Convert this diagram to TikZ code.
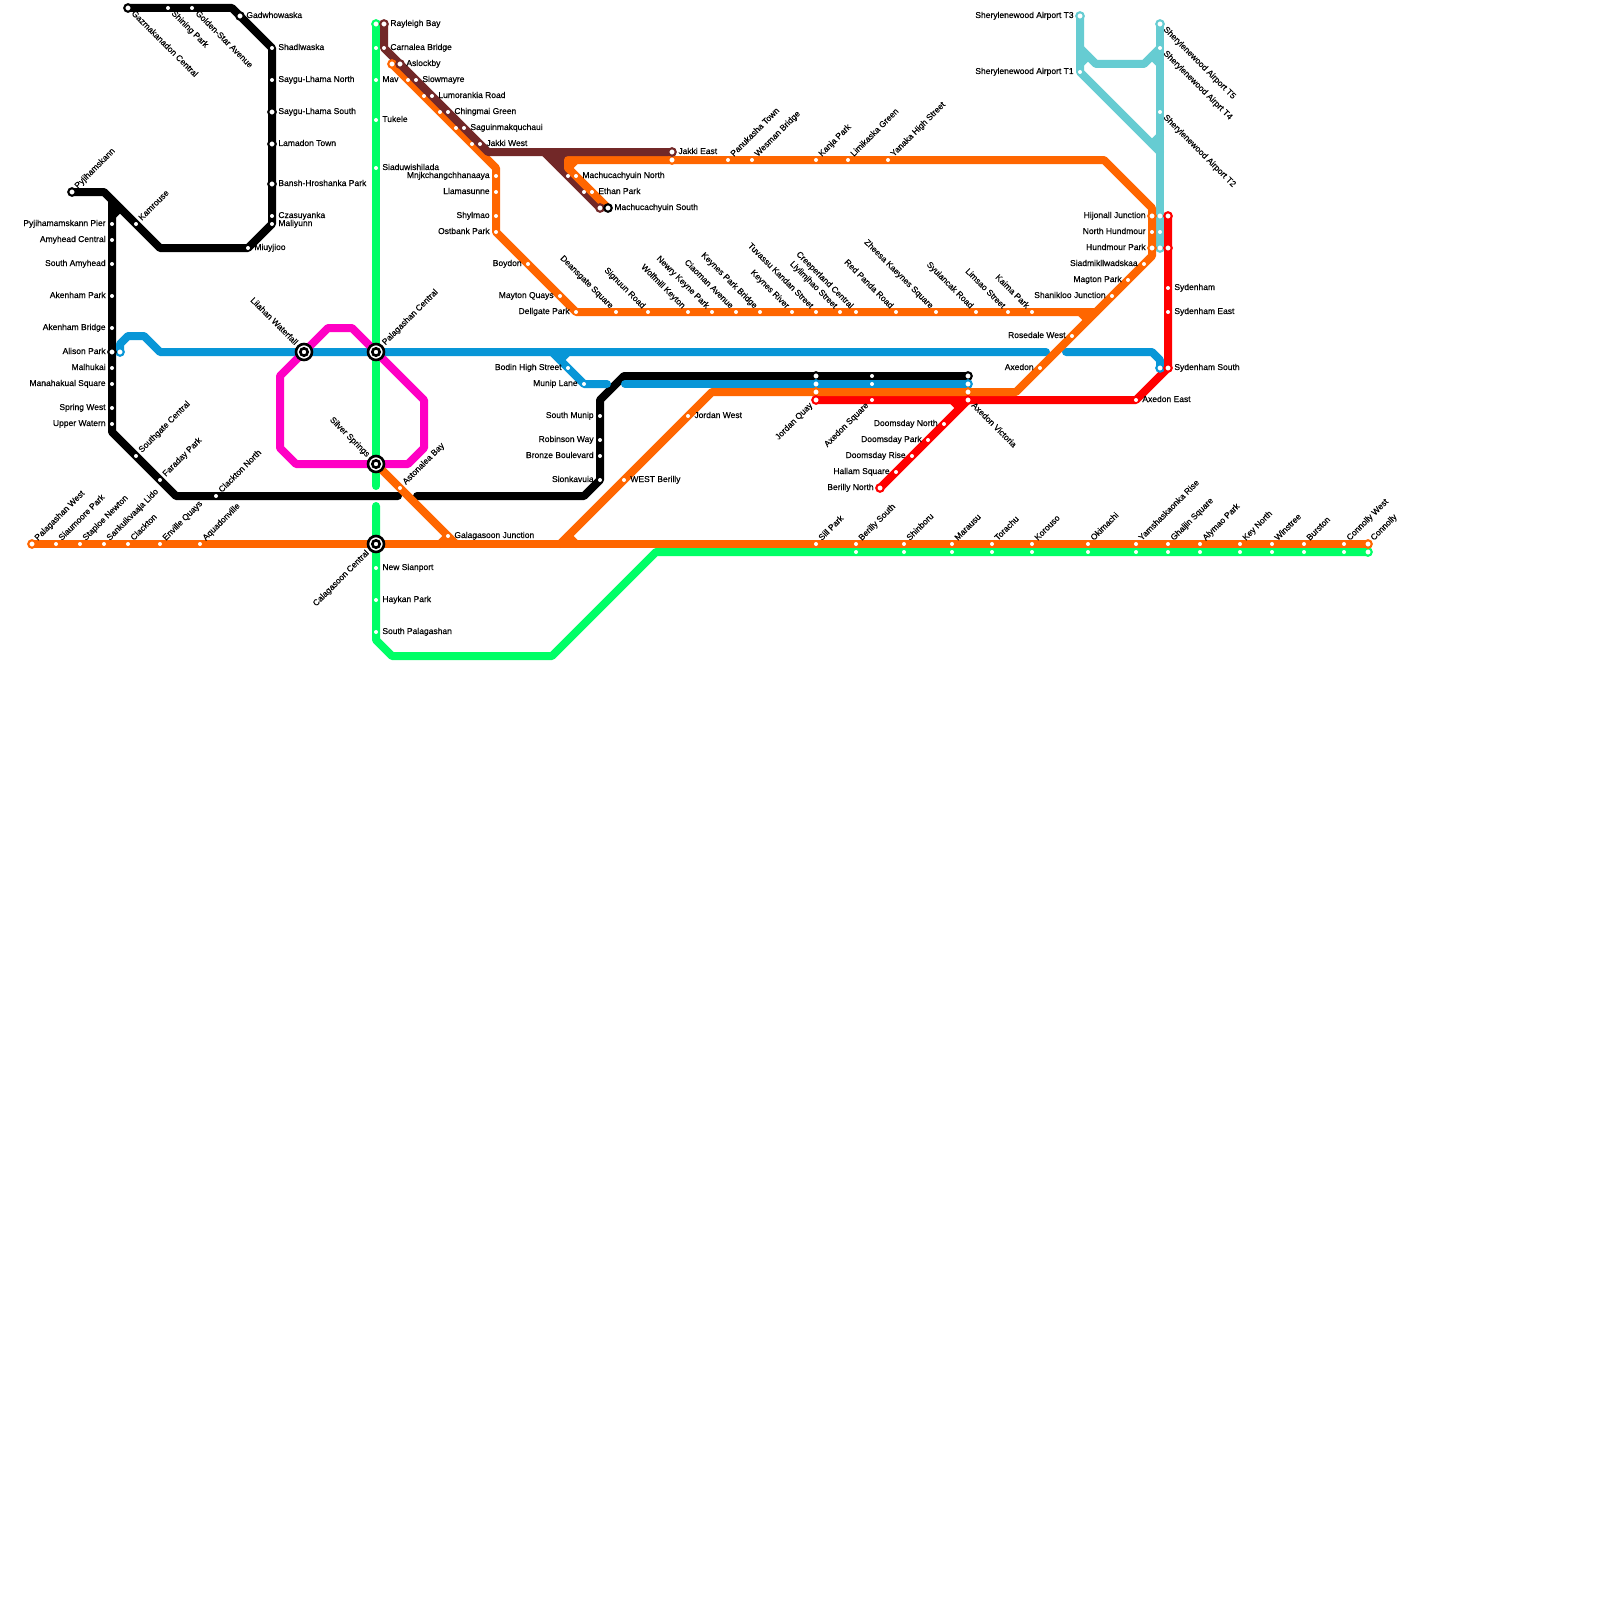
\documentclass[tikz,border=0pt]{standalone}
\usepackage{fontspec}
\newfontfamily\lblfont[FakeBold=0.3]{Liberation Sans}
\definecolor{lnK}{HTML}{000000}
\definecolor{lnB}{HTML}{0896D7}
\definecolor{lnO}{HTML}{FF6600}
\definecolor{lnG}{HTML}{00FF66}
\definecolor{lnM}{HTML}{FF00C4}
\definecolor{lnN}{HTML}{722828}
\definecolor{lnT}{HTML}{66CCD2}
\definecolor{lnR}{HTML}{FF0000}
\tikzset{
  metro/.style={line width=4pt,line cap=round,line join=round},
  stdot/.style={circle,fill=white,inner sep=0pt,outer sep=0pt,minimum size=2pt},
  stbig/.style={circle,fill=white,draw=#1,line width=1.05pt,inner sep=0pt,outer sep=0pt,minimum size=3.75pt},
  stK/.style={stbig=lnK},stO/.style={stbig=lnO},stN/.style={stbig=lnN},
  stR/.style={stbig=lnR},stT/.style={stbig=lnT},
  icout/.style={circle,fill=white,draw=black,line width=1.3pt,inner sep=0pt,outer sep=0pt,minimum size=8pt},
  icin/.style={circle,fill=white,draw=black,line width=1.3pt,inner sep=0pt,outer sep=0pt,minimum size=3.7pt},
  lab/.style={inner sep=0pt,font=\lblfont\fontsize{4.25}{5}\selectfont,text=black},
  lblR/.style={lab,xshift=3pt,yshift=-1pt,anchor=base west},
  lblL/.style={lab,xshift=-3pt,yshift=-1pt,anchor=base east},
  lblUR/.style={lab,rotate=45,xshift=3pt,yshift=-1pt,anchor=base west},
  lblUL/.style={lab,rotate=-45,xshift=-3pt,yshift=-1pt,anchor=base east},
  lblDR/.style={lab,rotate=-45,xshift=3pt,yshift=-1pt,anchor=base west},
  lblDL/.style={lab,rotate=45,xshift=-3pt,yshift=-1pt,anchor=base east},
  lblURf/.style={lab,rotate=45,xshift=5.5pt,yshift=-1pt,anchor=base west},
  lblULf/.style={lab,rotate=-45,xshift=-5.5pt,yshift=-1pt,anchor=base east},
  lblDLf/.style={lab,rotate=45,xshift=-5.5pt,yshift=-1pt,anchor=base east},
}
\begin{document}
\begin{tikzpicture}[x=0.5pt,y=-0.5pt]
\fill[white] (0,0) rectangle (1600,1600);
\useasboundingbox (0,0) rectangle (1600,1600);
% way points of the lines
\foreach \n/\x/\y in {
 ka1/128/8,ka2/232/8,ka3/272/48,ka4/272/224,ka5/248/248,ka6/160/248,ka7/104/192,ka8/72/192,
 kb1/112/200,kb2/112/432,kb3/176/496,kb4/398/496,kb5/417/496,kb6/584/496,kb7/600/480,kb8/600/400,kb9/624/376,kb10/968/376,kw1/120/208,kw2/112/216,
 ba1/120/352,ba2/120/344,ba3/128/336,ba4/144/336,ba5/160/352,ba6/1046/352,ba7/1066/352,ba8/1152/352,ba9/1160/360,ba10/1160/368,
 bb1/552/352,bb2/584/384,bb3/607/384,bw1/568/352,bw2/560/360,bc1/625/384,bc2/968/384,
 oa1/392/64,oa2/496/168,oa3/496/232,oa4/576/312,oa5/1096/312,ow1/1080/312,ow2/1088/320,
 ob1/608/208,ob2/568/168,ob3/568/160,ob4/1104/160,ob5/1152/208,ob6/1152/256,ob7/1016/392,ob8/712/392,ob9/560/544,
 ow3/576/160,ow4/576/544,ow5/568/536,oc1/376/464,oc2/456/544,ow6/440/544,ow7/448/536,om1/32/544,om2/1368/544,
 ga1/376/24,ga2/376/486,gb1/376/506,gb2/376/640,gb3/392/656,gb4/552/656,gb5/656/552,gb6/1368/552,
 ma1/304/352,ma2/328/328,ma3/352/328,ma4/424/400,ma5/424/448,ma6/408/464,ma7/296/464,ma8/280/448,ma9/280/376,
 na1/384/24,na2/384/48,na3/488/152,na4/672/152,nb1/544/152,nb2/600/208,nw1/560/152,nw2/560/168,nw3/552/152,nw4/552/160,nw5/566/152,nw6/566/172,
 ta1/1080/16,ta2/1080/72,ta3/1160/152,tb1/1080/48,tb2/1096/64,tb3/1144/64,tb4/1160/48,tc1/1160/24,tc2/1160/248,
 tw1/1088/56,tw2/1080/64,tw3/1152/56,tw4/1160/64,tw5/1152/144,tw6/1160/136,
 ra1/1168/216,ra2/1168/368,ra3/1136/400,ra4/816/400,rb1/880/488,rb2/968/400,rw1/952/400,rw2/960/408}
 {\coordinate (\n) at (\x,\y);}
% lines
\draw[metro,lnG] (ga1)--(ga2);
\draw[metro,lnG] (gb1)--(gb2)--(gb3)--(gb4)--(gb5)--(gb6);
\draw[metro,lnK] (ka1)--(ka2)--(ka3)--(ka4)--(ka5)--(ka6)--(ka7)--(ka8);
\draw[metro,lnK] (kb1)--(kb2)--(kb3)--(kb4);
\draw[metro,lnK] (kw1)--(kw2);
\draw[metro,lnK] (kb5)--(kb6)--(kb7)--(kb8)--(kb9)--(kb10);
\draw[metro,lnB] (ba1)--(ba2)--(ba3)--(ba4)--(ba5)--(ba6);
\draw[metro,lnB] (ba7)--(ba8)--(ba9)--(ba10);
\draw[metro,lnB] (bb1)--(bb2)--(bb3);
\draw[metro,lnB] (bw1)--(bw2);
\draw[metro,lnB] (bc1)--(bc2);
\draw[metro,lnM] (ma1)--(ma2)--(ma3)--(ma4)--(ma5)--(ma6)--(ma7)--(ma8)--(ma9)--cycle;
\draw[metro,lnT] (ta1)--(ta2)--(ta3);
\draw[metro,lnT] (tb1)--(tb2)--(tb3)--(tb4);
\draw[metro,lnT] (tc1)--(tc2);
\draw[metro,lnT] (tw1)--(tw2);
\draw[metro,lnT] (tw3)--(tw4);
\draw[metro,lnT] (tw5)--(tw6);
\draw[metro,lnR] (ra1)--(ra2)--(ra3)--(ra4);
\draw[metro,lnR] (rb1)--(rb2);
\draw[metro,lnR] (rw1)--(rw2);
\draw[metro,lnN] (nb1)--(nb2);
\draw[metro,lnN] (nw1)--(nw2);
\draw[metro,lnN] (nw3)--(nw4);
\draw[metro,lnN] (nw5)--(nw6);
\draw[metro,lnO] (oa1)--(oa2)--(oa3)--(oa4)--(oa5);
\draw[metro,lnO] (ow1)--(ow2);
\draw[metro,lnO] (ob1)--(ob2)--(ob3)--(ob4)--(ob5)--(ob6)--(ob7)--(ob8)--(ob9);
\draw[metro,lnO] (ow3)--(ob2);
\draw[metro,lnO] (ow4)--(ow5);
\draw[metro,lnO] (oc1)--(oc2);
\draw[metro,lnO] (ow6)--(ow7);
\draw[metro,lnO] (om1)--(om2);
\draw[metro,lnN] (na1)--(na2)--(na3)--(na4);
% stations without a label
\foreach \x/\y/\k [count=\i] in {
 376/24/lnG,392/64/lnO,600/208/lnN,672/160/lnO,816/376/lnK,816/384/lnB,816/392/lnO,968/376/lnK,
 968/384/lnB,968/392/lnO,1160/216/lnT,1160/248/lnT,1168/216/lnR,1168/248/lnR,1160/368/lnB,120/352/lnB,1368/552/lnG}
 {\node[stbig=\k] (u\i) at (\x,\y) {};}
\foreach \x/\y [count=\i] in {
 376/48,408/80,424/96,440/112,456/128,472/144,568/176,584/192,872/376,872/384,1160/232,
 856/552,904/552,952/552,992/552,1032/552,1088/552,1136/552,1168/552,1200/552,1240/552,1272/552,1304/552,1344/552}
 {\node[stdot] (v\i) at (\x,\y) {};}
% labelled stations: x/y/kind/placement/text
\foreach \x/\y/\k/\d/\t [count=\i] in {
 128/8/stK/lblDR/Gazmakanadon Central,
 168/8/stdot/lblDR/Shining Park,
 192/8/stdot/lblDR/Golden-Star Avenue,
 240/16/stK/lblR/Gadwhowaska,
 272/48/stdot/lblR/Shadlwaska,
 272/80/stdot/lblR/Saygu-Lhama North,
 272/112/stK/lblR/Saygu-Lhama South,
 272/144/stK/lblR/Lamadon Town,
 272/184/stK/lblR/Bansh-Hroshanka Park,
 272/216/stdot/lblR/Czasuyanka,
 272/224/stdot/lblR/Maliyunn,
 248/248/stdot/lblR/Miuyjioo,
 136/224/stdot/lblUR/Kamrouse,
 72/192/stK/lblUR/Pyjihamskann,
 112/224/stdot/lblL/Pyjihamamskann Pier,
 112/240/stdot/lblL/Amyhead Central,
 112/264/stdot/lblL/South Amyhead,
 112/296/stdot/lblL/Akenham Park,
 112/328/stdot/lblL/Akenham Bridge,
 112/352/stK/lblL/Alison Park,
 112/368/stdot/lblL/Malhukai,
 112/384/stdot/lblL/Manahakual Square,
 112/408/stdot/lblL/Spring West,
 112/424/stdot/lblL/Upper Watern,
 136/456/stdot/lblUR/Southgate Central,
 160/480/stdot/lblUR/Faraday Park,
 216/496/stdot/lblUR/Clackton North,
 32/544/stO/lblUR/Palagashan West,
 56/544/stdot/lblUR/Siaumoore Park,
 80/544/stdot/lblUR/Staploe Newton,
 104/544/stdot/lblUR/Sankuikvaaja Lido,
 128/544/stdot/lblUR/Clackton,
 160/544/stdot/lblUR/Enville Quays,
 200/544/stdot/lblUR/Aquadonville,
 384/24/stN/lblR/Rayleigh Bay,
 384/48/stdot/lblR/Carnalea Bridge,
 400/64/stN/lblR/Aslockby,
 416/80/stdot/lblR/Siowmayre,
 432/96/stdot/lblR/Lumorankia Road,
 448/112/stdot/lblR/Chingmai Green,
 464/128/stdot/lblR/Saguinmakquchaui,
 480/144/stdot/lblR/Jakki West,
 376/80/stdot/lblR/Mav,
 376/120/stdot/lblR/Tukele,
 376/168/stdot/lblR/Siaduwishilada,
 496/176/stdot/lblL/Mnjkchangchhanaaya,
 496/192/stdot/lblL/Llamasunne,
 496/216/stdot/lblL/Shylmao,
 496/232/stdot/lblL/Ostbank Park,
 528/264/stdot/lblL/Boydon,
 560/296/stdot/lblL/Mayton Quays,
 576/312/stdot/lblL/Dellgate Park,
 616/312/stdot/lblUL/Deansgate Square,
 648/312/stdot/lblUL/Signuun Road,
 688/312/stdot/lblUL/Wolfmill Keyton,
 712/312/stdot/lblUL/Newry Keyne Park,
 736/312/stdot/lblUL/Ciaoman Avenue,
 760/312/stdot/lblUL/Keynes Park Bridge,
 792/312/stdot/lblUL/Keynes River,
 816/312/stdot/lblUL/Tuvassu Kandan Street,
 840/312/stdot/lblUL/Liylimjhao Street,
 856/312/stdot/lblUL/Creeperland Central,
 896/312/stdot/lblUL/Red Panda Road,
 936/312/stdot/lblUL/Zheesa Kaeynes Square,
 976/312/stdot/lblUL/Syuiancak Road,
 1008/312/stdot/lblUL/Limsao Street,
 1032/312/stdot/lblUL/Kaima Park,
 672/152/stN/lblR/Jakki East,
 728/160/stdot/lblUR/Panukasha Town,
 752/160/stdot/lblUR/Wesman Bridge,
 816/160/stdot/lblUR/Kanja Park,
 848/160/stdot/lblUR/Limikaska Green,
 888/160/stdot/lblUR/Yanaka High Street,
 576/176/stdot/lblR/Machucachyuin North,
 592/192/stdot/lblR/Ethan Park,
 608/208/stK/lblR/Machucachyuin South,
 568/368/stdot/lblL/Bodin High Street,
 584/384/stdot/lblL/Munip Lane,
 600/416/stdot/lblL/South Munip,
 600/440/stdot/lblL/Robinson Way,
 600/456/stdot/lblL/Bronze Boulevard,
 600/480/stdot/lblL/Sionkavuia,
 400/488/stdot/lblUR/Astonalea Bay,
 448/536/stdot/lblR/Galagasoon Junction,
 624/480/stdot/lblR/WEST Berilly,
 688/416/stdot/lblR/Jordan West,
 376/568/stdot/lblR/New Sianport,
 376/600/stdot/lblR/Haykan Park,
 376/632/stdot/lblR/South Palagashan,
 816/400/stR/lblDL/Jordan Quay,
 872/400/stdot/lblDL/Axedon Square,
 968/400/stR/lblDR/Axedon Victoria,
 944/424/stdot/lblL/Doomsday North,
 928/440/stdot/lblL/Doomsday Park,
 912/456/stdot/lblL/Doomsday Rise,
 896/472/stdot/lblL/Hallam Square,
 880/488/stR/lblL/Berilly North,
 1136/400/stdot/lblR/Axedon East,
 1168/288/stdot/lblR/Sydenham,
 1168/312/stdot/lblR/Sydenham East,
 1168/368/stR/lblR/Sydenham South,
 1040/368/stdot/lblL/Axedon,
 1072/336/stdot/lblL/Rosedale West,
 1112/296/stdot/lblL/Shanikloo Junction,
 1128/280/stdot/lblL/Magton Park,
 1144/264/stdot/lblL/Siadmikllwadskaa,
 1152/248/stO/lblL/Hundmour Park,
 1152/232/stdot/lblL/North Hundmour,
 1152/216/stO/lblL/Hijonall Junction,
 1080/16/stT/lblL/Sherylenewood Airport T3,
 1080/72/stdot/lblL/Sherylenewood Airport T1,
 1160/24/stT/lblDR/Sherylenewood Airport T5,
 1160/48/stdot/lblDR/Sherylenewood Airprt T4,
 1160/112/stdot/lblDR/Sherylenewood Airport T2,
 816/544/stdot/lblUR/Sill Park,
 856/544/stdot/lblUR/Berilly South,
 904/544/stdot/lblUR/Shinboru,
 952/544/stdot/lblUR/Marausu,
 992/544/stdot/lblUR/Torachu,
 1032/544/stdot/lblUR/Korouso,
 1088/544/stdot/lblUR/Okimachi,
 1136/544/stdot/lblUR/Yamshaskaonka Rise,
 1168/544/stdot/lblUR/Ghaljin Square,
 1200/544/stdot/lblUR/Alymao Park,
 1240/544/stdot/lblUR/Key North,
 1272/544/stdot/lblUR/Winstree,
 1304/544/stdot/lblUR/Burston,
 1344/544/stdot/lblUR/Connolly West,
 1368/544/stO/lblUR/Connolly}
 {\node[\k] (s\i) at (\x,\y) {};
  \node[\d] (t\i) at (\x,\y) {\t};}
% interchanges
\foreach \x/\y/\d/\t [count=\i] in {
 304/352/lblULf/Liiahan Waterfall,
 376/352/lblURf/Palagashan Central,
 376/464/lblULf/Silver Springs,
 376/544/lblDLf/Calagasoon Central}
 {\node[icout] (io\i) at (\x,\y) {};
  \node[icin] (ii\i) at (\x,\y) {};
  \node[\d] (il\i) at (\x,\y) {\t};}
\end{tikzpicture}
\end{document}
